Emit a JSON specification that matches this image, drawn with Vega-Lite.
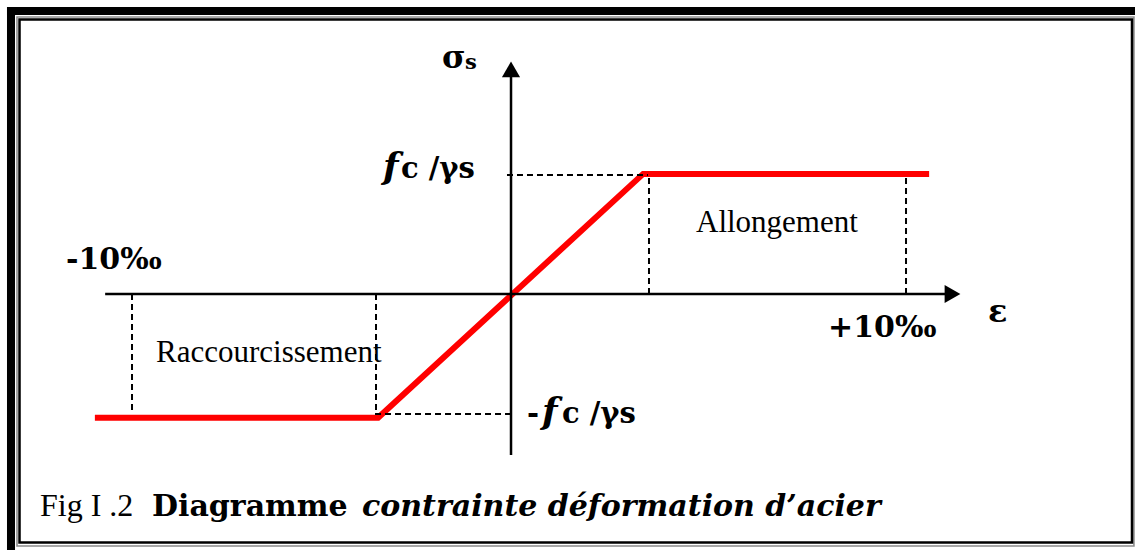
{
  "$schema": "https://vega.github.io/schema/vega-lite/v6.json",
  "autosize": {"type": "fit", "contains": "padding"},
  "width": 1135,
  "height": 550,
  "padding": 0,
  "background": "white",
  "config": {"view": {"stroke": null}},
  "encoding": {
    "x": {"field": "x", "type": "quantitative", "axis": null, "scale": {"domain": [-12.962, 15.772], "nice": false, "zero": false}},
    "y": {"field": "y", "type": "quantitative", "axis": null, "scale": {"domain": [-2.1423, 2.4603], "nice": false, "zero": false}}
  },
  "layer": [
    {
      "data": {"values": [
        {"part": "top band", "x": -12.785, "x2": 15.772, "y": 2.402, "y2": 2.335},
        {"part": "left band", "x": -12.785, "x2": -12.582, "y": 2.402, "y2": -2.1423}
      ]},
      "mark": {"type": "rect", "fill": "#000000", "strokeWidth": 0},
      "encoding": {"x2": {"field": "x2"}, "y2": {"field": "y2"}}
    },
    {
      "data": {"values": [{"part": "outer line", "x": -12.532, "x2": 15.745, "y": 2.318, "y2": -2.109}]},
      "mark": {"type": "rect", "fill": null, "stroke": "#8c8c8c", "strokeWidth": 1.6},
      "encoding": {"x2": {"field": "x2"}, "y2": {"field": "y2"}}
    },
    {
      "data": {"values": [{"part": "inner line", "x": -12.468, "x2": 15.696, "y": 2.297, "y2": -2.08}]},
      "mark": {"type": "rect", "fill": null, "stroke": "#000000", "strokeWidth": 2.5},
      "encoding": {"x2": {"field": "x2"}, "y2": {"field": "y2"}}
    },
    {
      "data": {"values": [
        {"i": 0, "x": -10.56, "y": -1.035},
        {"i": 1, "x": -3.39, "y": -1.035},
        {"i": 2, "x": 3.32, "y": 1.005},
        {"i": 3, "x": 10.56, "y": 1.005}
      ]},
      "mark": {"type": "line", "color": "#ff0000", "strokeWidth": 6, "strokeJoin": "miter", "strokeCap": "butt"},
      "encoding": {"order": {"field": "i", "type": "quantitative"}}
    },
    {
      "data": {"values": [
        {"x": -0.127, "x2": 3.443, "y": 0.995, "y2": 0.995},
        {"x": 3.468, "x2": 3.468, "y": 0, "y2": 0.995},
        {"x": 9.975, "x2": 9.975, "y": 0, "y2": 0.995},
        {"x": -3.468, "x2": -0.025, "y": -1.004, "y2": -1.004},
        {"x": -3.443, "x2": -3.443, "y": 0, "y2": -1.004},
        {"x": -9.62, "x2": -9.62, "y": 0, "y2": -1.004}
      ]},
      "mark": {"type": "rule", "color": "#000000", "strokeWidth": 2, "strokeDash": [6, 4]},
      "encoding": {"x2": {"field": "x2"}, "y2": {"field": "y2"}}
    },
    {
      "data": {"values": [
        {"axis": "epsilon", "x": -10.3, "x2": 11.15, "y": 0, "y2": 0},
        {"axis": "sigma", "x": -0.025, "x2": -0.025, "y": -1.347, "y2": 1.87}
      ]},
      "mark": {"type": "rule", "color": "#000000", "strokeWidth": 2.5},
      "encoding": {"x2": {"field": "x2"}, "y2": {"field": "y2"}}
    },
    {
      "data": {"values": [{"x": -0.025, "y": 1.879}]},
      "mark": {"type": "point", "shape": "triangle-up", "size": 330, "filled": true, "color": "#000000", "opacity": 1, "strokeWidth": 0}
    },
    {
      "data": {"values": [{"x": 11.152, "y": 0}]},
      "mark": {"type": "point", "shape": "triangle-right", "size": 330, "filled": true, "color": "#000000", "opacity": 1, "strokeWidth": 0}
    },
    {
      "data": {"values": [
        {"t": "σ", "x": -1.772, "y": 1.891},
        {"t": "ε", "x": 12.051, "y": -0.234}
      ]},
      "mark": {"type": "text", "font": "DejaVu Serif", "fontWeight": "bold", "fontSize": 32, "align": "left", "baseline": "alphabetic", "color": "#000000"},
      "encoding": {"text": {"field": "t"}}
    },
    {
      "data": {"values": [{"t": "s", "x": -1.19, "y": 1.883}]},
      "mark": {"type": "text", "font": "DejaVu Serif", "fontWeight": "bold", "fontSize": 21, "align": "left", "baseline": "alphabetic", "color": "#000000"},
      "encoding": {"text": {"field": "t"}}
    },
    {
      "data": {"values": [
        {"t": "f", "x": -3.266, "y": 0.971},
        {"t": "f", "x": 0.759, "y": -1.079}
      ]},
      "mark": {"type": "text", "font": "DejaVu Serif", "fontWeight": "bold", "fontStyle": "italic", "fontSize": 36, "align": "left", "baseline": "alphabetic", "color": "#000000"},
      "encoding": {"text": {"field": "t"}}
    },
    {
      "data": {"values": [
        {"t": "c /γs", "x": -2.81, "y": 0.971},
        {"t": "c /γs", "x": 1.266, "y": -1.079},
        {"t": "-", "x": 0.38, "y": -1.079}
      ]},
      "mark": {"type": "text", "font": "DejaVu Serif", "fontWeight": "bold", "fontSize": 29, "align": "left", "baseline": "alphabetic", "color": "#000000"},
      "encoding": {"text": {"field": "t"}}
    },
    {
      "data": {"values": [
        {"t": "-10‰", "x": -11.291, "y": 0.209},
        {"t": "+10‰", "x": 8.0, "y": -0.36}
      ]},
      "mark": {"type": "text", "font": "DejaVu Serif", "fontWeight": "bold", "fontSize": 30, "align": "left", "baseline": "alphabetic", "color": "#000000"},
      "encoding": {"text": {"field": "t"}}
    },
    {
      "data": {"values": [
        {"t": "Raccourcissement", "x": -9.013, "y": -0.569},
        {"t": "Allongement", "x": 4.658, "y": 0.519}
      ]},
      "mark": {"type": "text", "font": "Liberation Serif", "fontSize": 31, "align": "left", "baseline": "alphabetic", "color": "#000000"},
      "encoding": {"text": {"field": "t"}}
    },
    {
      "data": {"values": [{"t": "Fig I .2", "x": -11.949, "y": -1.858}]},
      "mark": {"type": "text", "font": "Liberation Serif", "fontSize": 32, "align": "left", "baseline": "alphabetic", "color": "#000000"},
      "encoding": {"text": {"field": "t"}}
    },
    {
      "data": {"values": [{"t": "Diagramme", "x": -9.114, "y": -1.858}]},
      "mark": {"type": "text", "font": "DejaVu Serif", "fontWeight": "bold", "fontSize": 30, "align": "left", "baseline": "alphabetic", "color": "#000000"},
      "encoding": {"text": {"field": "t"}}
    },
    {
      "data": {"values": [{"t": "contrainte déformation d’acier", "x": -3.797, "y": -1.858}]},
      "mark": {"type": "text", "font": "DejaVu Serif", "fontWeight": "bold", "fontStyle": "italic", "fontSize": 30, "align": "left", "baseline": "alphabetic", "color": "#000000"},
      "encoding": {"text": {"field": "t"}}
    }
  ]
}
